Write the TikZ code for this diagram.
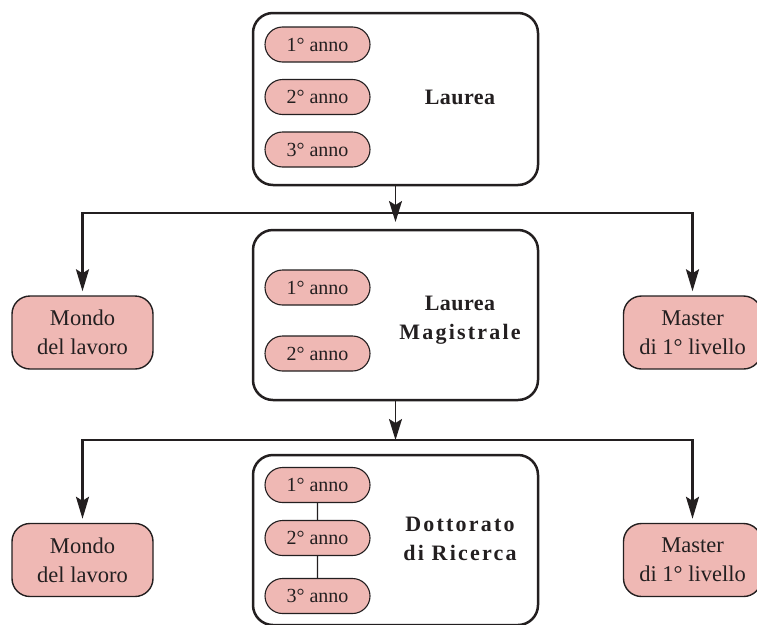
\documentclass[tikz,border=0pt]{standalone}
\usepackage{fontspec}
\setmainfont{Liberation Serif}
\usetikzlibrary{arrows.meta, shapes.misc}
\definecolor{inkc}{RGB}{35,31,32}
\definecolor{pinkc}{RGB}{239,184,180}
\tikzset{
  bigbox/.style={draw=inkc, line width=2.5pt, rounded corners=20pt, fill=white,
    minimum width=285pt, minimum height=170pt, inner sep=0pt},
  pill/.style={draw=inkc, line width=1.1pt, rounded rectangle, fill=pinkc,
    minimum width=105pt, minimum height=35pt, inner sep=0pt,
    font=\fontsize{20}{22}\selectfont, text=inkc},
  outbox/.style={draw=inkc, line width=1.4pt, rounded corners=18pt, fill=pinkc,
    minimum height=73pt, inner sep=0pt, align=center,
    font=\fontsize{22.5}{29}\selectfont, text=inkc},
  title/.style={align=center, text=inkc,
    font=\fontsize{22}{29}\selectfont\bfseries\addfontfeature{LetterSpace=#1}},
  title/.default=10,
  arr/.style={draw=inkc, line width=2.5pt,
    -{Stealth[length=22pt, width=13pt, inset=4pt]}},
  stem/.style={draw=inkc, line width=1.8pt,
    -{Stealth[length=21pt, width=13pt, inset=4pt]}},
  link/.style={draw=inkc, line width=1.1pt}
}
\begin{document}
\begin{tikzpicture}[x=1pt, y=-1pt]
\useasboundingbox (0,0) rectangle (757,624);

% first level: Laurea
\node[bigbox, minimum height=172pt] (lau) at (395.5,99) {};
\node[pill] (l1) at (317.5,44.5) {1° anno};
\node[pill] (l2) at (317.5,97) {2° anno};
\node[pill] (l3) at (317.5,149.5) {3° anno};
\node[title=2] (laut) at (460,97) {Laurea};

% second level: Laurea Magistrale
\node[bigbox] (mag) at (395.5,315) {};
\node[pill] (m1) at (317.5,287.5) {1° anno};
\node[pill] (m2) at (317.5,353.5) {2° anno};
\node[title] (magt) at (460,320) {\addfontfeature{LetterSpace=2}Laurea\\Magistrale};

% third level: Dottorato
\node[bigbox] (dot) at (395.5,540) {};
\node[pill] (d1) at (317.5,485) {1° anno};
\node[pill] (d2) at (317.5,538) {2° anno};
\node[pill] (d3) at (317.5,596) {3° anno};
\node[title] (dott) at (460,539) {Dottorato\\di Ricerca};
\draw[link] (d1) -- (d2);
\draw[link] (d2) -- (d3);

% exits
\node[outbox, minimum width=141pt] (mw1) at (82.5,332.5) {Mondo\\del lavoro};
\node[outbox, minimum width=138pt] (ms1) at (692.5,332.5) {Master\\di 1° livello};
\node[outbox, minimum width=141pt] (mw2) at (82.5,560) {Mondo\\del lavoro};
\node[outbox, minimum width=138pt] (ms2) at (692.5,560) {Master\\di 1° livello};

% connectors
\coordinate (s1) at (395.5,213);
\coordinate (s1tip) at (395.5,222);
\coordinate (s2) at (395.5,440);
\draw[stem] (lau) -- (s1tip);
\draw[arr, shorten >=4pt] (s1) -| (mw1);
\draw[arr, shorten >=4pt] (s1) -| (ms1);
\draw[stem] (mag) -- (s2);
\draw[arr, shorten >=4pt] (s2) -| (mw2);
\draw[arr, shorten >=4pt] (s2) -| (ms2);
\end{tikzpicture}
\end{document}
